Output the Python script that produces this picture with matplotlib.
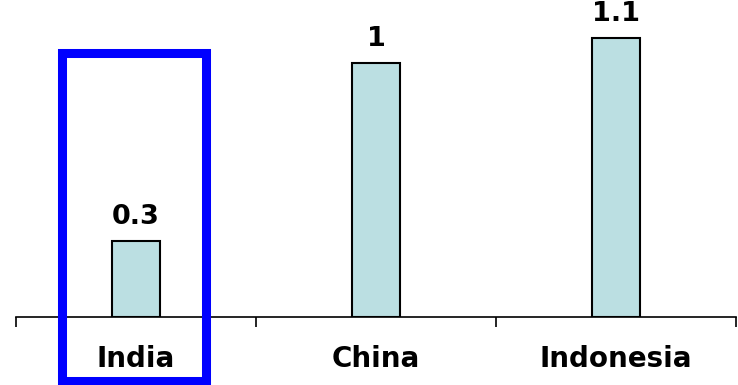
import matplotlib
matplotlib.use("Agg")
import matplotlib.pyplot as plt
from matplotlib.patches import Rectangle

categories = ["India", "China", "Indonesia"]
values = [0.3, 1.0, 1.1]
value_labels = ["0.3", "1", "1.1"]

W, H = 738, 385
fig = plt.figure(figsize=(W / 100, H / 100), dpi=100)
axis_y = 317
ax = fig.add_axes([16 / W, (H - axis_y) / H, 720 / W, 1.2 * 253.6 / H])

x = list(range(len(categories)))
ax.bar(x, values, width=0.204, color="#bbdfe2", edgecolor="black", linewidth=1.5, zorder=2)
for xi, v, lab in zip(x, values, value_labels):
    ax.annotate(lab, (xi, v), xytext=(0, 8), textcoords="offset points",
                ha="center", va="bottom", fontsize=19.5, fontweight="bold",
                family="DejaVu Sans")

ax.set_xlim(-0.5, len(categories) - 0.5)
ax.set_ylim(0, 1.2)
for s in ["top", "right", "left"]:
    ax.spines[s].set_visible(False)
ax.spines["bottom"].set_linewidth(1.2)
ax.set_yticks([])
ax.set_xticks(x)
ax.set_xticklabels(categories, fontsize=20, fontweight="bold")
ax.tick_params(axis="x", which="major", length=0, pad=20)
ax.set_xticks([i - 0.5 for i in range(len(categories) + 1)], minor=True)
ax.tick_params(axis="x", which="minor", length=7, width=1.2, direction="out")

# highlight box around India
rect = Rectangle((61.7 / W, (H - 381) / H), (206 - 61.7) / W, (381 - 53) / H,
                 transform=fig.transFigure, fill=False, edgecolor="#0000ff",
                 linewidth=6.5, zorder=5)
fig.patches.append(rect)

fig.savefig("out.png", dpi=100)
